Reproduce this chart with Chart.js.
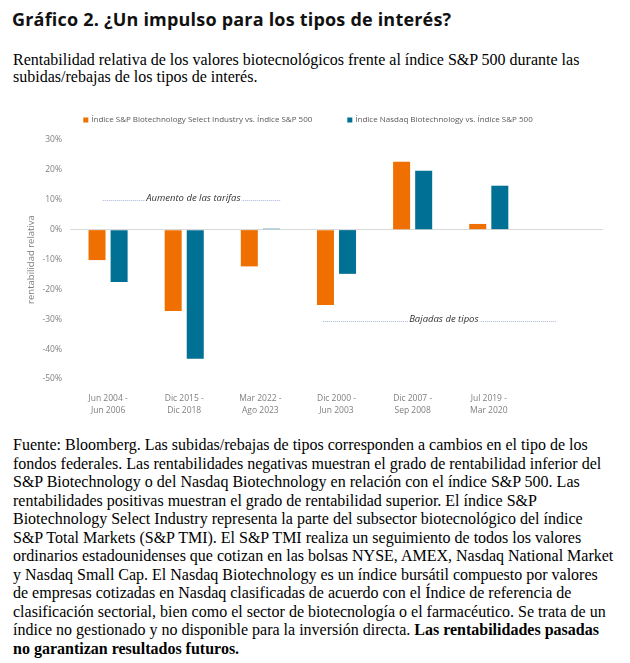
<!DOCTYPE html>
<html>
<head>
<meta charset="utf-8">
<script src="https://cdn.jsdelivr.net/npm/chart.js@4.4.1/dist/chart.umd.min.js"></script>
<style>
  html, body { margin: 0; padding: 0; background: #fff; width: 630px; height: 663px; overflow: hidden; }
  .title { position: absolute; left: 12px; top: 8px; font-family: "Open Sans", Roboto, sans-serif; font-weight: 700; font-size: 18px; letter-spacing: 0.2px; color: #111; white-space: nowrap; line-height: 22px; }
  .sub { position: absolute; left: 13px; top: 51px; font-family: "Liberation Serif", "Times New Roman", serif; font-size: 16px; line-height: 17px; color: #000; white-space: nowrap; }
  .foot { position: absolute; left: 13px; top: 436px; font-family: "Liberation Serif", "Times New Roman", serif; font-size: 16px; line-height: 18.5px; color: #000; white-space: nowrap; }
  #wrap { position: absolute; left: 0; top: 100px; width: 630px; height: 330px; }
</style>
</head>
<body>
<div class="title">Gráfico 2. ¿Un impulso para los tipos de interés?</div>
<div class="sub">Rentabilidad relativa de los valores biotecnológicos frente al índice S&amp;P 500 durante las<br>subidas/rebajas de los tipos de interés.</div>
<div id="wrap"><canvas id="c"></canvas></div>
<div class="foot">Fuente: Bloomberg. Las subidas/rebajas de tipos corresponden a cambios en el tipo de los<br>fondos federales. Las rentabilidades negativas muestran el grado de rentabilidad inferior del<br>S&amp;P Biotechnology o del Nasdaq Biotechnology en relación con el índice S&amp;P 500. Las<br>rentabilidades positivas muestran el grado de rentabilidad superior. El índice S&amp;P<br>Biotechnology Select Industry representa la parte del subsector biotecnológico del índice<br>S&amp;P Total Markets (S&amp;P TMI). El S&amp;P TMI realiza un seguimiento de todos los valores<br>ordinarios estadounidenses que cotizan en las bolsas NYSE, AMEX, Nasdaq National Market<br>y Nasdaq Small Cap. El Nasdaq Biotechnology es un índice bursátil compuesto por valores<br>de empresas cotizadas en Nasdaq clasificadas de acuerdo con el Índice de referencia de<br>clasificación sectorial, bien como el sector de biotecnología o el farmacéutico. Se trata de un<br>índice no gestionado y no disponible para la inversión directa. <b>Las rentabilidades pasadas<br>no garantizan resultados futuros.</b></div>
<script>
// ---- Data ----
const categories = [
  ["Jun 2004 -", "Jun 2006"],
  ["Dic 2015 -", "Dic 2018"],
  ["Mar 2022 -", "Ago 2023"],
  ["Dic 2000 -", "Jun 2003"],
  ["Dic 2007 -", "Sep 2008"],
  ["Jul 2019 -", "Mar 2020"],
  ""
];
const seriesNames = [
  "Índice S&P Biotechnology Select Industry vs. Índice S&P 500",
  "Índice Nasdaq Biotechnology vs. Índice S&P 500"
];
const spBiotech = [-10.2, -27.2, -12.3, -25.2, 22.7, 1.9, null];
const nasdaqBiotech = [-17.5, -43.2, 0.3, -14.8, 19.7, 14.7, null];
const yTicks = [30, 20, 10, 0, -10, -20, -30, -40, -50];
const yTitle = "rentabilidad relativa";
const annotationTexts = ["Aumento de las tarifas", "Bajadas de tipos"];
const annotationValues = [10, -30.5];

// ---- Styles / placement ----
const ORANGE = "#EF7000";
const BLUE = "#007094";
const annotationPlacement = [
  { from: -0.07, to: 2.27, at: 1.12 },
  { from: 2.82, to: 5.88, at: 4.41 }
];
const chartFont = '"Open Sans", sans-serif';

const annotationPlugin = {
  id: "annot",
  afterDatasetsDraw(chart) {
    const { ctx, scales: { x, y } } = chart;
    ctx.save();
    annotationTexts.forEach((t, i) => {
      const p = annotationPlacement[i];
      const yy = Math.round(y.getPixelForValue(annotationValues[i])) + 0.5;
      const x1 = x.getPixelForValue(p.from), x2 = x.getPixelForValue(p.to);
      ctx.strokeStyle = "#a9b3d6";
      ctx.lineWidth = 1;
      ctx.setLineDash([1, 1]);
      ctx.beginPath(); ctx.moveTo(x1, yy); ctx.lineTo(x2, yy); ctx.stroke();
      ctx.setLineDash([]);
      ctx.font = 'italic 9.5px ' + chartFont;
      const w = ctx.measureText(t).width;
      const cx = x.getPixelForValue(p.at);
      ctx.fillStyle = "#fff";
      ctx.fillRect(cx - w / 2 - 1, yy - 7, w + 2, 9);
      ctx.fillStyle = "#333";
      ctx.textAlign = "center";
      ctx.textBaseline = "middle";
      ctx.fillText(t, cx, yy - 2);
    });
    ctx.restore();
  }
};

const legendPlugin = {
  id: "customLegend",
  afterDraw(chart) {
    const { ctx } = chart;
    ctx.save();
    ctx.font = '8px ' + chartFont;
    const box = 5, gap = 3, between = 35;
    const w1 = ctx.measureText(seriesNames[0]).width;
    const w2 = ctx.measureText(seriesNames[1]).width;
    const total = box + gap + w1 + between + box + gap + w2;
    let xx = 308 - total / 2;
    const yy = 20;
    const colors = [ORANGE, BLUE];
    [w1, w2].forEach((w, i) => {
      ctx.fillStyle = colors[i];
      ctx.fillRect(xx, yy - box / 2, box, box);
      ctx.fillStyle = "#595959";
      ctx.textAlign = "left";
      ctx.textBaseline = "middle";
      ctx.fillText(seriesNames[i], xx + box + gap, yy);
      xx += box + gap + w + between;
    });
    ctx.restore();
  }
};

new Chart(document.getElementById("c"), {
  type: "bar",
  data: {
    labels: categories,
    datasets: [
      { label: seriesNames[0], data: spBiotech, backgroundColor: ORANGE },
      { label: seriesNames[1], data: nasdaqBiotech, backgroundColor: BLUE }
    ]
  },
  options: {
    responsive: true,
    maintainAspectRatio: false,
    animation: false,
    layout: { padding: { top: 40, right: 27, bottom: 11, left: 0 } },
    datasets: { bar: { categoryPercentage: 0.58, barPercentage: 0.77 } },
    plugins: { legend: { display: false }, tooltip: { enabled: false } },
    scales: {
      x: {
        grid: { display: false },
        border: { display: false },
        ticks: { color: "#7f7f7f", font: { family: chartFont, size: 8.5 }, padding: 6, maxRotation: 0, autoSkip: false, font: { family: chartFont, size: 8.5, lineHeight: 1.4 } },
        afterFit(s) { s.height = 40; }
      },
      y: {
        min: -50, max: 30,
        afterBuildTicks(s) { s.ticks = yTicks.map(v => ({ value: v })); },
        grid: { drawTicks: false, color: c => (c.tick && c.tick.value === 0 ? "#d9d9d9" : "rgba(0,0,0,0)"), lineWidth: 1 },
        border: { display: false },
        ticks: { color: "#7f7f7f", font: { family: chartFont, size: 8.5 }, padding: 8, callback: v => v + "%" },
        title: { display: true, text: yTitle, color: "#7f7f7f", font: { family: chartFont, size: 9.5 }, padding: { top: 26, bottom: 0 } },
        afterFit(s) { s.width = 70; }
      }
    }
  },
  plugins: [annotationPlugin, legendPlugin]
});
</script>
</body>
</html>
